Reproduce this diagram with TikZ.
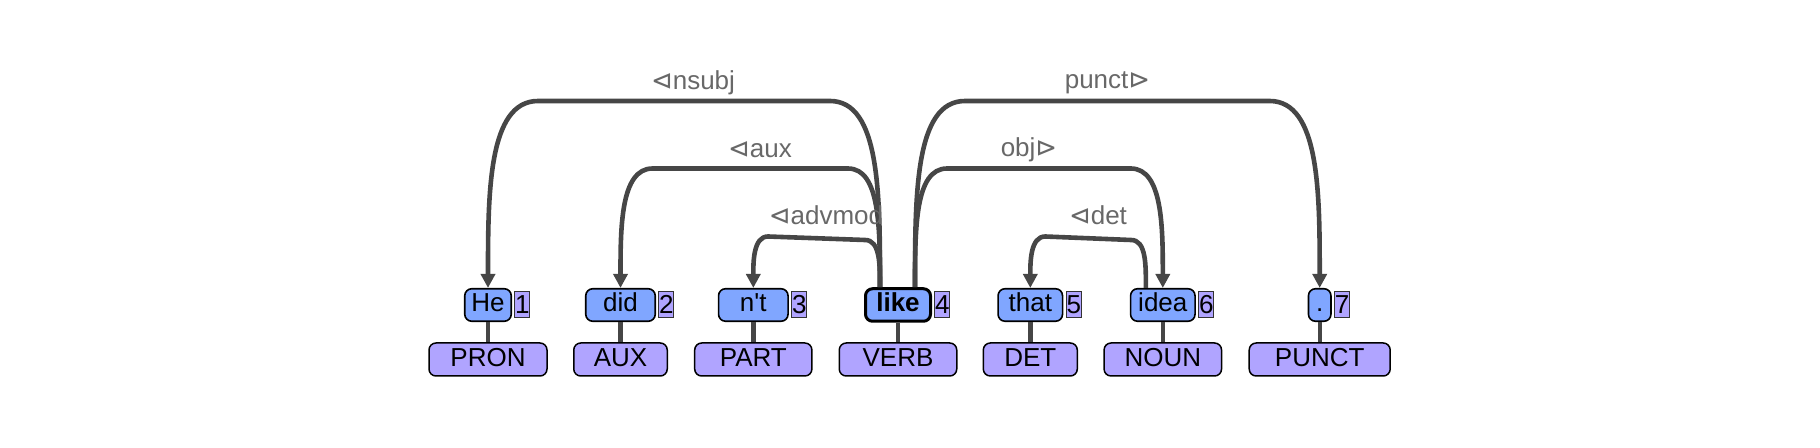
\documentclass[tikz,border=0pt]{standalone}
\usepackage{fontspec}
\setmainfont{Liberation Sans}
\newfontfamily\symf{DejaVu Sans}
\usetikzlibrary{arrows.meta,calc}
\definecolor{wordfill}{RGB}{128,166,255}
\definecolor{posfill}{RGB}{176,164,255}
\definecolor{arccol}{RGB}{70,70,70}
\definecolor{labcol}{RGB}{104,104,104}
\begin{document}
\begin{tikzpicture}[x=0.5pt,y=-0.5pt,
  font=\fontsize{13pt}{15pt}\selectfont,
  wordbox/.style={draw=black, line width=0.8pt, fill=wordfill, rounded corners=3.5pt, minimum height=16.25pt, inner sep=0pt, text height=9.4pt, text depth=2.7pt},
  posbox/.style={draw=black, line width=0.75pt, fill=posfill, rounded corners=3.5pt, minimum height=16.5pt, inner sep=0pt, text height=9.4pt, text depth=2.7pt},
  numbox/.style={draw=black!80, line width=0.5pt, fill=posfill, minimum width=7.5pt, minimum height=13pt, inner sep=0pt, anchor=west, text height=9.4pt, text depth=1pt},
  stem/.style={draw=arccol, line width=2.2pt},
  arc/.style={draw=arccol, line width=2.3pt, -{Triangle[length=7pt,width=7pt]}},
  lab/.style={text=labcol, anchor=base, inner sep=0pt},
]
\useasboundingbox (0,0) rectangle (1820,448);

% words
\node[wordbox, minimum width=23.25pt] (He)   at (488,305)    {He};
\node[wordbox, minimum width=34.75pt] (did)  at (620.5,305)  {did};
\node[wordbox, minimum width=34.75pt] (nt)   at (753.3,305)  {n\textquotesingle t};
\node[wordbox, minimum width=32.5pt, line width=1.5pt] (like) at (898,305) {\bfseries like};
\node[wordbox, minimum width=32.25pt] (that) at (1030.3,305) {that};
\node[wordbox, minimum width=32.25pt] (idea) at (1162.8,305) {idea};
\node[wordbox, minimum width=11.25pt] (dot)  at (1319.7,305) {.};

% indices
\node[numbox] (n1) at ([xshift=1.2pt]He.east)   {1};
\node[numbox] (n2) at ([xshift=1.2pt]did.east)  {2};
\node[numbox] (n3) at ([xshift=1.2pt]nt.east)   {3};
\node[numbox] (n4) at ([xshift=1.2pt]like.east) {4};
\node[numbox] (n5) at ([xshift=1.2pt]that.east) {5};
\node[numbox] (n6) at ([xshift=1.2pt]idea.east) {6};
\node[numbox] (n7) at ([xshift=1.2pt]dot.east)  {7};

% POS tags
\node[posbox, minimum width=59pt]    (p1) at (488,359.5)    {PRON};
\node[posbox, minimum width=46.75pt] (p2) at (620.5,359.5)  {AUX};
\node[posbox, minimum width=58.6pt]  (p3) at (753.3,359.5)  {PART};
\node[posbox, minimum width=58.75pt] (p4) at (898,359.5)    {VERB};
\node[posbox, minimum width=47pt]    (p5) at (1030.3,359.5) {DET};
\node[posbox, minimum width=58.75pt] (p6) at (1162.8,359.5) {NOUN};
\node[posbox, minimum width=70.5pt]  (p7) at (1319.7,359.5) {PUNCT};

% stems
\draw[stem] (He.south) -- (p1.north);
\draw[stem] (did.south) -- (p2.north);
\draw[stem] (nt.south) -- (p3.north);
\draw[stem] (like.south) -- (p4.north);
\draw[stem] (that.south) -- (p5.north);
\draw[stem] (idea.south) -- (p6.north);
\draw[stem] (dot.south) -- (p7.north);

% arc end points on heads
\coordinate (likeL) at ($(like.north)+(-18,0)$);
\coordinate (likeR) at ($(like.north)+(17,0)$);
\coordinate (ideaL) at ($(idea.north)+(-17,0)$);

% arcs
\draw[arc] (likeL) .. controls (880,194) and (880,101) .. (830,101) -- (538,101) .. controls (488,101) and (488,194) .. (He.north);
\draw[arc] (likeL) .. controls (880,228) and (880,168.5) .. (848,168.5) -- (652.5,168.5) .. controls (620.5,168.5) and (620.5,228) .. (did.north);
\draw[arc] (likeL) .. controls (880,264) and (880,240) .. (865,240) -- (768,236.5) .. controls (753.3,236.5) and (753.3,262) .. (nt.north);
\draw[arc] (likeR) .. controls (915,194) and (915,101) .. (965,101) -- (1269.7,101) .. controls (1319.7,101) and (1319.7,194) .. (dot.north);
\draw[arc] (likeR) .. controls (915,228) and (915,168.5) .. (947,168.5) -- (1130.8,168.5) .. controls (1162.8,168.5) and (1162.8,228) .. (idea.north);
\draw[arc] (ideaL) .. controls (1146,264) and (1146,240) .. (1131,240) -- (1045.3,236.5) .. controls (1030.3,236.5) and (1030.3,262) .. (that.north);

% labels
\node[lab] (lnsubj)  at (693,90)    {{\symf ⊲}nsubj};
\node[lab] (laux)    at (760,158)   {{\symf ⊲}aux};
\node[lab] (ladvmod) at (826,225)   {{\symf ⊲}advmod};
\node[lab] (lpunct)  at (1107.5,89) {punct{\symf ⊳}};
\node[lab] (lobj)    at (1029,157)  {obj{\symf ⊳}};
\node[lab] (ldet)    at (1098,225)  {{\symf ⊲}det};
\end{tikzpicture}
\end{document}
